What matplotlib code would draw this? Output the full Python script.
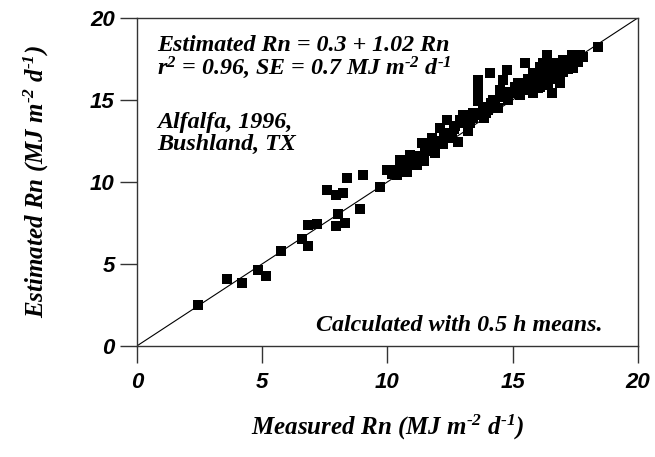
import matplotlib
matplotlib.use('Agg')
import matplotlib.pyplot as plt

plt.rcParams['mathtext.fontset'] = 'custom'
plt.rcParams['mathtext.rm'] = 'Liberation Serif:bold:italic'
plt.rcParams['mathtext.it'] = 'Liberation Serif:bold:italic'
plt.rcParams['mathtext.default'] = 'rm'

# valeurs (MJ m-2 d-1)
measured = [2.45, 3.58, 4.21, 4.84, 5.15, 5.75, 6.60, 6.84, 6.81, 7.20, 7.57, 7.93, 8.24, 8.40,
            9.03, 8.04, 7.93, 8.30, 8.90, 9.70, 10.03,
            9.97, 10.37, 10.50, 10.90, 11.17, 11.37, 11.76, 11.90, 12.10, 12.36, 12.56, 12.83,
            13.03, 13.29, 13.69, 10.20, 10.60, 10.75, 11.00, 11.30, 11.50, 11.60, 11.85, 12.00,
            12.20, 12.40, 12.70, 12.90, 13.10, 13.40, 13.50, 10.40, 10.80, 11.10, 11.45, 12.25,
            12.65, 13.20, 13.85,
            13.63, 13.63, 14.09, 14.62, 14.76, 15.49, 16.09, 16.49, 16.89, 16.55, 15.29, 15.69,
            15.02, 14.62, 14.22, 13.82, 13.43, 16.09, 15.82, 13.63, 13.63, 14.00, 14.30, 14.50,
            14.80, 15.10, 15.30, 15.50, 15.80, 16.00, 14.40, 14.90, 15.20, 15.60, 13.95, 14.15,
            14.70, 15.40,
            18.42, 17.68, 17.35, 17.02, 16.35, 16.62, 16.35, 16.89, 17.42, 16.09, 16.89, 16.55,
            16.22, 16.70, 17.10, 17.20, 17.50, 17.80, 16.50, 16.80, 17.00, 17.30, 16.20, 16.60,
            15.90, 16.40, 17.60]
estimated = [2.50, 4.09, 3.82, 4.63, 4.29, 5.79, 6.52, 6.10, 7.36, 7.42, 9.51, 9.21, 9.31, 10.22,
             10.43, 8.03, 7.34, 7.52, 8.34, 9.71, 10.73,
             10.73, 10.43, 11.34, 11.65, 11.04, 12.36, 12.66, 11.75, 13.27, 13.78, 12.66, 12.46,
             14.09, 13.58, 14.09, 10.50, 10.90, 11.10, 11.20, 11.60, 11.90, 12.20, 12.00, 12.50,
             12.30, 13.00, 13.40, 13.80, 13.60, 13.90, 14.20, 10.70, 10.60, 11.40, 11.30, 12.90,
             13.20, 13.10, 13.90,
             16.22, 15.41, 16.63, 16.22, 16.83, 17.24, 17.03, 16.63, 16.22, 15.41, 15.81, 16.02,
             15.41, 15.20, 15.00, 14.59, 14.19, 15.81, 16.63, 15.90, 14.90, 14.40, 14.70, 15.60,
             15.00, 15.80, 15.30, 15.60, 15.40, 15.70, 14.50, 15.50, 16.00, 16.30, 14.20, 14.80,
             15.20, 15.90,
             18.25, 17.74, 17.74, 17.44, 17.74, 17.24, 16.63, 16.42, 16.93, 16.22, 16.02, 15.41,
             17.24, 17.00, 17.30, 16.90, 17.50, 17.60, 16.90, 17.20, 16.70, 17.10, 16.50, 16.30,
             16.10, 15.90, 17.30]

ticks = [0, 5, 10, 15, 20]
tick_font = dict(family='Liberation Sans', weight='bold', style='italic', size=16)
lab_font = dict(family='Liberation Serif', weight='bold', style='italic', size=18)
txt_font = dict(family='Liberation Serif', weight='bold', style='italic', size=17.3)

fig = plt.figure(figsize=(6.55, 4.57), dpi=100)
ax = fig.add_axes([0.209, 0.243, 0.765, 0.718])
ax.plot([0, 20], [0, 20], color='black', lw=0.8)
ax.scatter(measured, estimated, marker='s', s=55, color='black', linewidths=0, zorder=3)
ax.set_xlim(0, 20); ax.set_ylim(0, 20)
ax.set_xticks(ticks); ax.set_yticks(ticks)
ax.set_xticklabels([str(t) for t in ticks], fontdict=tick_font)
ax.set_yticklabels([str(t) for t in ticks], fontdict=tick_font)
ax.tick_params(direction='out', length=12, width=1, color='#333333')
ax.tick_params(axis='x', pad=7)
ax.tick_params(axis='y', pad=4)
for s in ax.spines.values(): s.set_linewidth(1.0); s.set_color('#333333')
ax.set_xlabel(r'Measured Rn (MJ m$^{\text{-}2}$ d$^{\text{-}1}$)', fontdict=lab_font, labelpad=14)
ax.set_ylabel(r'Estimated Rn (MJ m$^{\text{-}2}$ d$^{\text{-}1}$)', fontdict=lab_font, labelpad=28)
ax.text(0.04, 0.915, 'Estimated Rn = 0.3 + 1.02 Rn', transform=ax.transAxes, va='center', **txt_font)
ax.text(0.04, 0.848, r'r$^{2}$ = 0.96, SE = 0.7 MJ m$^{\text{-}2}$ d$^{\text{-}1}$', transform=ax.transAxes, va='center', **txt_font)
ax.text(0.04, 0.68, 'Alfalfa, 1996,', transform=ax.transAxes, va='center', **txt_font)
ax.text(0.04, 0.614, 'Bushland, TX', transform=ax.transAxes, va='center', **txt_font)
ax.text(0.93, 0.061, 'Calculated with 0.5 h means.', transform=ax.transAxes, va='center', ha='right', **txt_font)
fig.savefig('out.png', dpi=100)
